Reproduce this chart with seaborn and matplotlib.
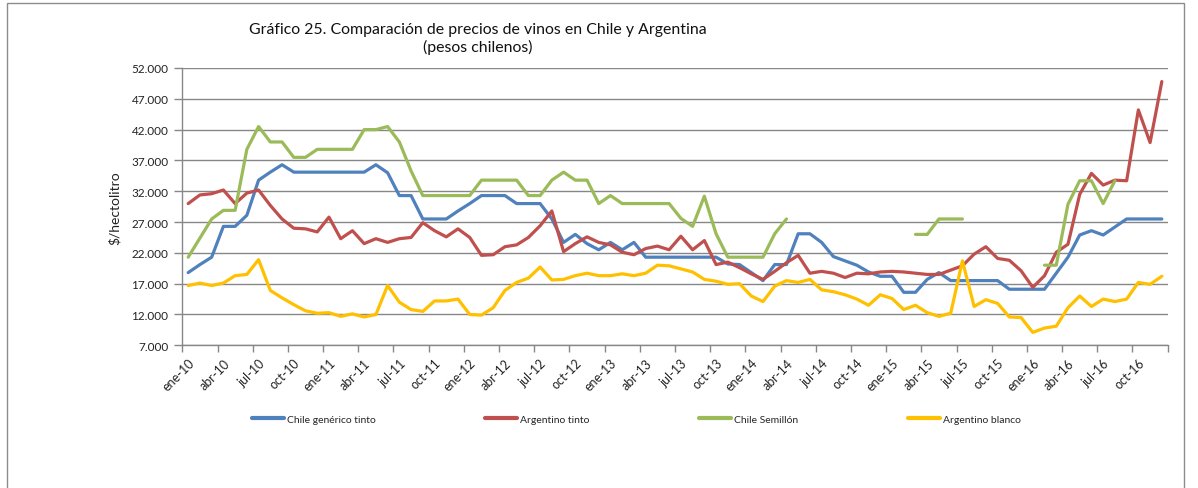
import matplotlib
matplotlib.use("Agg")
import matplotlib.pyplot as plt
from matplotlib.lines import Line2D
from matplotlib.patches import Rectangle
from matplotlib.ticker import FuncFormatter
import numpy as np
import pandas as pd
import seaborn as sns

# precios mensuales ene-10 .. dic-16 (pesos chilenos por hectolitro)
chile_generico_tinto = [
    18800, 20100, 21300, 26300, 26300, 28100, 33800, 35100, 36300, 35100, 35100, 35100,
    35100, 35100, 35100, 35100, 36300, 35000, 31300, 31300, 27500, 27500, 27500, 28800,
    30000, 31300, 31300, 31300, 30000, 30000, 30000, 27500, 23700, 25000, 23500, 22500,
    23700, 22500, 23700, 21300, 21300, 21300, 21300, 21300, 21300, 21300, 20200, 20100,
    18800, 17500, 20100, 20100, 25100, 25100, 23700, 21400, 20700, 20000, 18900, 18200,
    18200, 15600, 15600, 17700, 18800, 17500, 17500, 17500, 17500, 17500, 16100, 16100,
    16100, 16100, 18700, 21300, 24900, 25600, 24900, 26200, 27500, 27500, 27500, 27500,
]
argentino_tinto = [
    30000, 31400, 31600, 32200, 30000, 31700, 32200, 29700, 27500, 26000, 25900, 25400,
    27800, 24300, 25600, 23500, 24300, 23700, 24300, 24500, 26900, 25600, 24600, 25900,
    24500, 21600, 21700, 23000, 23300, 24500, 26400, 28800, 22200, 23500, 24600, 23700,
    23300, 22100, 21700, 22700, 23100, 22500, 24700, 22500, 24000, 20100, 20500, 19600,
    18600, 17700, 19000, 20400, 21600, 18700, 19000, 18700, 18000, 18700, 18600, 18900,
    19000, 18900, 18700, 18500, 18500, 19200, 19900, 21800, 23000, 21100, 20800, 19100,
    16400, 18300, 22100, 23400, 31500, 34900, 33000, 33800, 33700, 45200, 39900, 49800,
]
chile_semillon = [
    21300, 24400, 27500, 28900, 28900, 38800, 42500, 40000, 40000, 37500, 37500, 38800,
    38800, 38800, 38800, 42000, 42000, 42500, 40000, 35300, 31300, 31300, 31300, 31300,
    31300, 33800, 33800, 33800, 33800, 31300, 31300, 33800, 35100, 33800, 33800, 30000,
    31300, 30000, 30000, 30000, 30000, 30000, 27600, 26300, 31200, 25100, 21300, 21300,
    21300, 21300, 25100, 27500, np.nan, np.nan, np.nan, np.nan, np.nan, np.nan, np.nan, np.nan,
    np.nan, np.nan, 25000, 25000, 27500, 27500, 27500, np.nan, np.nan, np.nan, np.nan, np.nan,
    np.nan, 20000, 20000, 29900, 33700, 33700, 30000, 33700, np.nan, np.nan, np.nan, np.nan,
]
argentino_blanco = [
    16700, 17100, 16700, 17100, 18300, 18500, 20900, 15900, 14700, 13600, 12600, 12200,
    12300, 11700, 12100, 11600, 12000, 16700, 14000, 12800, 12500, 14200, 14200, 14500,
    12000, 11900, 13100, 15900, 17200, 17900, 19700, 17600, 17700, 18300, 18700, 18300,
    18300, 18600, 18300, 18700, 20000, 19900, 19400, 18900, 17700, 17400, 16900, 17000,
    15000, 14100, 16600, 17500, 17200, 17700, 16000, 15700, 15200, 14500, 13500, 15200,
    14600, 12800, 13500, 12300, 11700, 12200, 20700, 13300, 14400, 13800, 11600, 11500,
    9100, 9800, 10100, 13100, 15000, 13300, 14500, 14100, 14500, 17200, 16900, 18200,
]

tick_labels = [
    'ene-10', 'abr-10', 'jul-10', 'oct-10', 'ene-11', 'abr-11', 'jul-11', 'oct-11',
    'ene-12', 'abr-12', 'jul-12', 'oct-12', 'ene-13', 'abr-13', 'jul-13', 'oct-13',
    'ene-14', 'abr-14', 'jul-14', 'oct-14', 'ene-15', 'abr-15', 'jul-15', 'oct-15',
    'ene-16', 'abr-16', 'jul-16', 'oct-16',
]

series = {
    'Chile genérico tinto': chile_generico_tinto,
    'Argentino tinto': argentino_tinto,
    'Chile Semillón': chile_semillon,
    'Argentino blanco': argentino_blanco,
}
colores = {
    'Chile genérico tinto': '#4F81BD',
    'Argentino tinto': '#C0504D',
    'Chile Semillón': '#9BBB59',
    'Argentino blanco': '#FFC000',
}

frames = []
for nombre, valores in series.items():
    s = pd.Series(valores, dtype=float)
    d = pd.DataFrame({'mes': np.arange(len(s)), 'valor': s,
                      'serie': nombre, 'tramo': s.isna().cumsum()})
    frames.append(d.dropna())
df = pd.concat(frames, ignore_index=True)

sns.set_theme(style='white')
plt.rcParams['font.family'] = ['Lato', 'DejaVu Sans']

fig = plt.figure(figsize=(11.98, 4.89), dpi=100)
ax = fig.add_axes([0.1522, 0.2918, 0.8225, 0.5671])

sns.lineplot(data=df, x='mes', y='valor', hue='serie', units='tramo',
             estimator=None, palette=colores, hue_order=list(series),
             linewidth=2.3, legend=False, ax=ax,
             solid_joinstyle='round', solid_capstyle='round')

gris = '#878787'
ax.set_xlim(-0.5, len(chile_generico_tinto) - 0.5)
ax.set_ylim(7000, 52000)
ax.set_yticks(np.arange(7000, 52001, 5000))
ax.yaxis.set_major_formatter(FuncFormatter(lambda v, p: f'{v:,.0f}'.replace(',', '.')))
ax.yaxis.grid(True, color=gris, linewidth=1.0)
ax.set_axisbelow(True)

ax.set_xticks(np.arange(-0.5, len(chile_generico_tinto), 3))
ax.set_xticklabels([])
ax.set_xticks(np.arange(0, len(chile_generico_tinto), 3), minor=True)
ax.set_xticklabels(tick_labels, minor=True, rotation=45, ha='right',
                   rotation_mode='anchor', fontsize=9, color='#222222')
ax.tick_params(axis='x', which='major', bottom=True, length=5, width=1, color=gris)
ax.tick_params(axis='x', which='minor', bottom=True, length=0, pad=8)
ax.tick_params(axis='y', left=True, length=6, width=1, color=gris, pad=4,
               labelsize=8.5, labelcolor='#222222')

for lado in ['top', 'right']:
    ax.spines[lado].set_visible(False)
for lado in ['left', 'bottom']:
    ax.spines[lado].set_color(gris)
    ax.spines[lado].set_linewidth(1.0)

ax.set_xlabel('')
ax.set_ylabel('$/hectolitro', fontsize=10, color='#222222')
ax.yaxis.set_label_coords(-0.062, 0.5)

fig.text(0.399, 0.9196, 'Gráfico 25. Comparación de precios de vinos en Chile y Argentina\n(pesos chilenos)',
         ha='center', va='center', fontsize=11.4, linespacing=1.25, color='#111111')

handles = [Line2D([0], [0], color=colores[n], linewidth=3) for n in series]
fig.legend(handles, list(series), loc='center left', bbox_to_anchor=(252 / 1198, 1 - 420 / 489),
           ncol=4, frameon=False, fontsize=7.5, handlelength=3.07, handletextpad=0.3,
           columnspacing=10.5, borderpad=0, borderaxespad=0)

fig.patches.append(Rectangle((0.0056, -0.1), 0.9827, 1.0928, transform=fig.transFigure,
                             fill=False, edgecolor='#8c8c8c', linewidth=1.0))

fig.savefig('out.png', dpi=100)
